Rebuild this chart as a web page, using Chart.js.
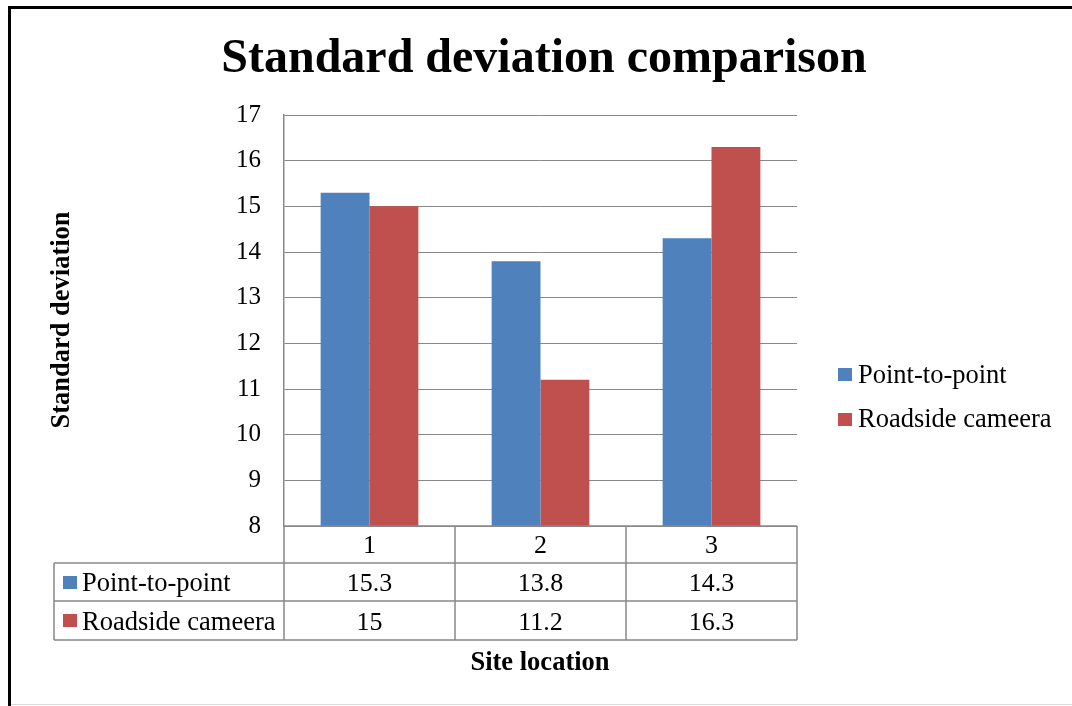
<!DOCTYPE html>
<html>
<head>
<meta charset="utf-8">
<script src="https://cdn.jsdelivr.net/npm/chart.js@4"></script>
<style>
  html, body { margin: 0; padding: 0; background: #fff; }
  #wrap { width: 1072px; height: 706px; position: relative; }
</style>
</head>
<body>
<div id="wrap"><canvas id="c" width="1072" height="706"></canvas></div>
<script>
// ---- data ----
const categories = ['1', '2', '3'];
const seriesNames = ['Point-to-point', 'Roadside cameera'];
const pointToPoint = [15.3, 13.8, 14.3];
const roadsideCamera = [15, 11.2, 16.3];
const yMin = 8, yMax = 17, yStep = 1;
const chartTitle = 'Standard deviation comparison';
const yTitle = 'Standard deviation';
const xTitle = 'Site location';
const colors = ['#4F81BD', '#C0504D'];

const serif = '"Liberation Serif", "Times New Roman", serif';
const lineGray = '#888888';

const extras = {
  id: 'extras',
  beforeDraw(chart) {
    const ctx = chart.ctx;
    ctx.save();
    ctx.fillStyle = '#ffffff';
    ctx.fillRect(0, 0, chart.width, chart.height);
    // frame
    ctx.fillStyle = '#000';
    ctx.fillRect(8, 6, chart.width - 8, 3);
    ctx.fillRect(8, 6, 3, chart.height - 6);
    ctx.fillStyle = '#d9d9d9';
    ctx.fillRect(11, 704, chart.width - 11, 1);
    ctx.restore();
  },
  afterDraw(chart) {
    const ctx = chart.ctx;
    const ca = chart.chartArea;
    const xs = chart.scales.x;
    ctx.save();
    // title
    ctx.fillStyle = '#000';
    ctx.font = 'bold 48px ' + serif;
    ctx.textAlign = 'center';
    ctx.textBaseline = 'alphabetic';
    ctx.fillText(chartTitle, 544, 72);
    // y title
    ctx.save();
    ctx.translate(69, 320);
    ctx.rotate(-Math.PI / 2);
    ctx.font = 'bold 26.5px ' + serif;
    ctx.textBaseline = 'alphabetic';
    ctx.fillText(yTitle, 0, 0);
    ctx.restore();
    // x title
    ctx.font = 'bold 26.5px ' + serif;
    ctx.fillText(xTitle, 540, 670);

    // data table
    const rowH = [ca.bottom, 563, 601, 640];
    const left = 54;
    const catW = (ca.right - ca.left) / categories.length;
    ctx.strokeStyle = lineGray;
    ctx.lineWidth = 1.5;
    ctx.beginPath();
    ctx.moveTo(ca.left, rowH[0]); ctx.lineTo(ca.right, rowH[0]);
    for (let r = 1; r < rowH.length; r++) {
      ctx.moveTo(left, rowH[r]); ctx.lineTo(ca.right, rowH[r]);
    }
    ctx.moveTo(left, rowH[1]); ctx.lineTo(left, rowH[3]);
    for (let i = 0; i <= categories.length; i++) {
      const x = ca.left + i * catW;
      ctx.moveTo(x, rowH[0]); ctx.lineTo(x, rowH[3]);
    }
    ctx.stroke();

    ctx.fillStyle = '#000';
    ctx.font = '26px ' + serif;
    ctx.textAlign = 'center';
    const baselines = [553, 591, 630];
    const series = [pointToPoint, roadsideCamera];
    categories.forEach((c, i) => {
      const cx = xs.getPixelForValue(i);
      ctx.fillText(c, cx, baselines[0]);
      series.forEach((s, k) => ctx.fillText(String(s[i]), cx, baselines[k + 1]));
    });
    ctx.textAlign = 'left';
    ctx.font = '26.5px ' + serif;
    const sqTop = [576, 614];
    seriesNames.forEach((n, k) => {
      ctx.fillStyle = colors[k];
      ctx.fillRect(63, sqTop[k], 14, 13);
      ctx.fillStyle = '#000';
      ctx.fillText(n, 82, baselines[k + 1]);
    });

    // right legend
    const legSq = [368, 413];
    const legBase = [383, 427];
    seriesNames.forEach((n, k) => {
      ctx.fillStyle = colors[k];
      ctx.fillRect(838, legSq[k], 14, 13);
      ctx.fillStyle = '#000';
      ctx.fillText(n, 858, legBase[k]);
    });
    ctx.restore();
  }
};

new Chart(document.getElementById('c'), {
  type: 'bar',
  data: {
    labels: categories,
    datasets: [
      { label: seriesNames[0], data: pointToPoint, backgroundColor: colors[0], borderWidth: 0 },
      { label: seriesNames[1], data: roadsideCamera, backgroundColor: colors[1], borderWidth: 0 }
    ]
  },
  options: {
    responsive: false,
    animation: false,
    devicePixelRatio: 1,
    layout: { padding: { left: 0, top: 115, right: 1072 - 797, bottom: 706 - 526 } },
    plugins: { legend: { display: false }, title: { display: false }, tooltip: { enabled: false } },
    datasets: { bar: { categoryPercentage: 2 / 3.5, barPercentage: 1 } },
    scales: {
      x: { display: false },
      y: {
        min: yMin, max: yMax,
        ticks: { stepSize: yStep, color: '#000', font: { family: serif, size: 25 }, padding: 23 },
        grid: { color: lineGray, lineWidth: 1, drawTicks: false },
        border: { display: true, color: lineGray, width: 1.5 },
        afterFit(scale) { scale.width = 284; }
      }
    }
  },
  plugins: [extras]
});
</script>
</body>
</html>
